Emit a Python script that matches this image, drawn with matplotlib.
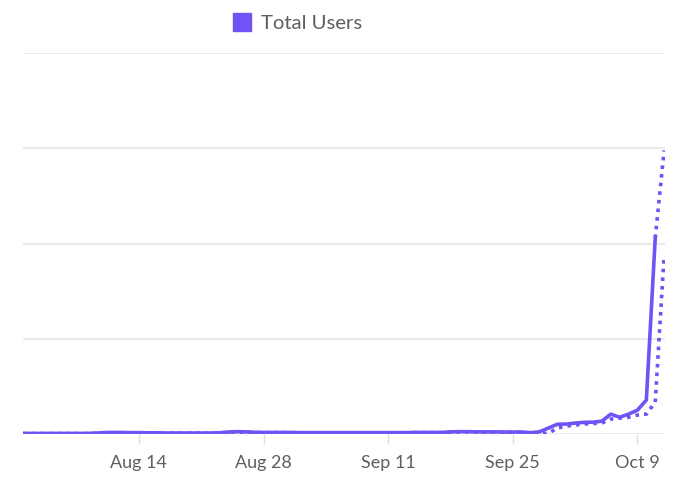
import numpy as np
import pandas as pd
import matplotlib
matplotlib.use("Agg")
import matplotlib.pyplot as plt
import matplotlib.dates as mdates
from matplotlib.lines import Line2D

# daily dates, Aug 1 -> Oct 12
dates = pd.date_range("2023-08-01", "2023-10-12", freq="D")

# Total Users (solid line, last day is partial -> dotted)
users_aug = [4, 4, 4, 4, 4, 4, 4, 4, 5, 8, 9, 9, 8, 8, 7, 7, 6, 6, 6, 6,
             6, 6, 7, 11, 13, 12, 10, 9, 9, 9, 9]
users_sep = [8, 8, 8, 8, 8, 8, 8, 8, 8, 8, 8, 8, 8, 9, 9, 9, 9, 12, 13, 13,
             12, 12, 12, 11, 11, 11, 8, 12, 32, 52]
users_oct = [53, 58, 62, 63, 68, 105, 89, 105, 126, 179, 1030, 1490]
users = users_aug + users_sep + users_oct

# comparison series (dotted)
comp_aug = [3, 3, 3, 3, 3, 3, 3, 3, 4, 6, 7, 7, 7, 6, 6, 5, 5, 5, 5, 5,
            5, 5, 6, 9, 11, 10, 9, 8, 8, 8, 8]
comp_sep = [7, 7, 7, 7, 7, 7, 7, 7, 7, 7, 7, 7, 7, 8, 8, 8, 8, 10, 11, 11,
            11, 10, 10, 10, 10, 10, 6, 4, 5, 32]
comp_oct = [42, 48, 53, 56, 58, 79, 84, 89, 100, 105, 168, 940]
comparison = comp_aug + comp_sep + comp_oct

tick_dates = ["2023-08-14", "2023-08-28", "2023-09-11", "2023-09-25", "2023-10-09"]
tick_labels = ["Aug 14", "Aug 28", "Sep 11", "Sep 25", "Oct 9"]

color = "#7052F5"
grey_text = "#5f5f5f"

plt.rcParams["font.family"] = ["Lato", "DejaVu Sans"]

fig = plt.figure(figsize=(6.8, 4.84), dpi=100)
ax = fig.add_axes([0.034, 0.103, 0.944, 0.787])

x = mdates.date2num(dates)
ax.plot(x, comparison, color=color, lw=2.6, ls=(0, (1, 1.4)),
        solid_capstyle="butt", zorder=3)
ax.plot(x[:-1], users[:-1], color=color, lw=2.6, solid_joinstyle="round", zorder=4)
ax.plot(x[-2:], users[-2:], color=color, lw=2.6, ls=(0, (1, 1.4)), zorder=4)

ax.set_xlim(x[0], x[-1] + 0.1)
ax.set_ylim(0, 2000)
ax.set_yticks([0, 500, 1000, 1500, 2000])
ax.set_yticklabels([])
ax.tick_params(axis="y", length=0)
ax.grid(axis="y", color="#e6e6e6", lw=1.2)
ax.set_axisbelow(True)

ax.set_xticks(mdates.date2num(pd.to_datetime(tick_dates)))
ax.set_xticklabels(tick_labels, fontsize=13, color=grey_text)
ax.tick_params(axis="x", length=7, width=1, color="#e0e0e0", pad=8)

for s in ax.spines.values():
    s.set_visible(False)

handle = Line2D([], [], marker="s", ls="none", markersize=12.5,
                markerfacecolor=color, markeredgecolor=color)
fig.legend([handle], ["Total Users"], loc="center left",
           bbox_to_anchor=(0.314, 0.951), frameon=False,
           fontsize=14.6, labelcolor=grey_text, handletextpad=0.42,
           handlelength=1.0)

fig.savefig("out.png", dpi=100)
